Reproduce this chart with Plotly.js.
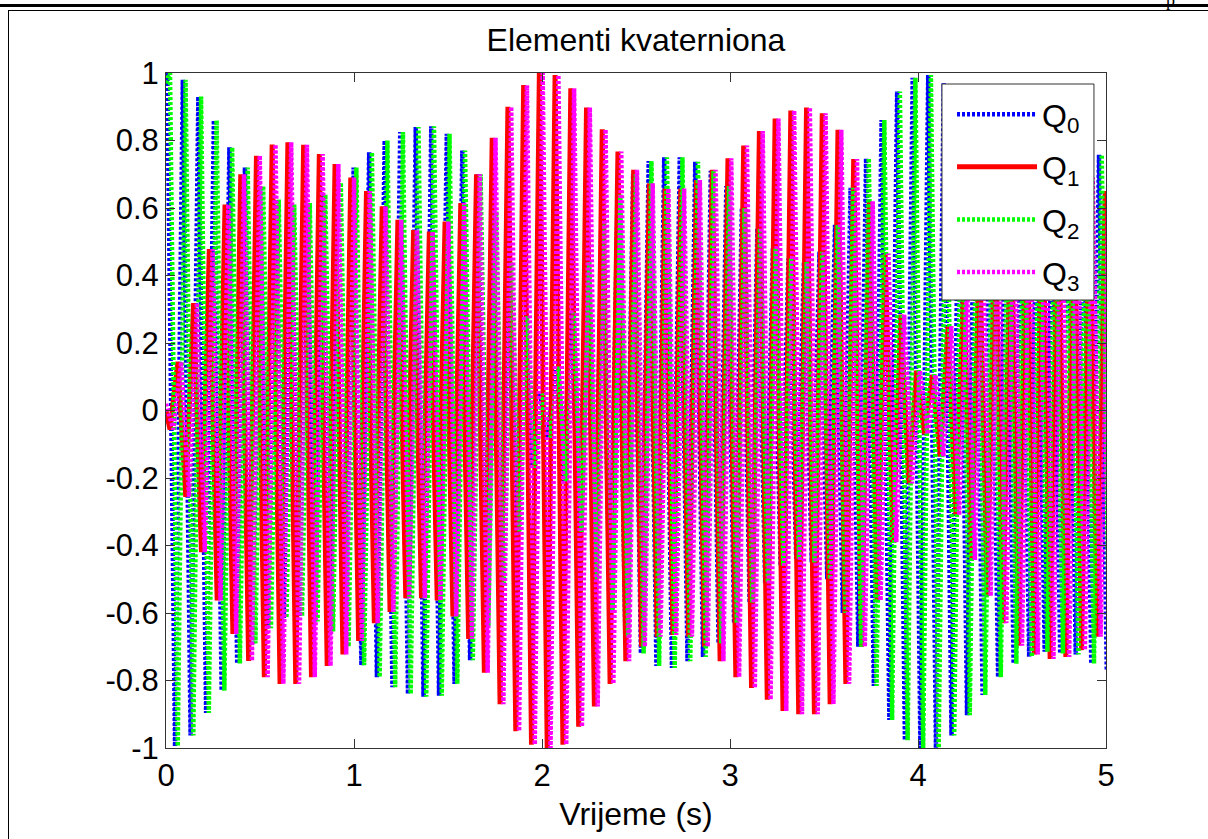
<!DOCTYPE html>
<html>
<head>
<meta charset="utf-8">
<script src="https://cdn.plot.ly/plotly-3.0.1.min.js"></script>
<style>
  html, body { margin:0; padding:0; background:#fff; }
  #wrap { position:relative; width:1208px; height:839px; overflow:hidden; }
  #chart { position:absolute; left:0; top:0; width:1208px; height:839px; }
  .rule { position:absolute; background:#000; z-index:5; }
  #pg { position:absolute; left:1166px; top:-10px; font:18px "Liberation Serif", serif; color:#000; z-index:5; }
</style>
</head>
<body>
<div id="wrap">
  <div id="chart"></div>
  <div class="rule" style="left:0;top:4px;width:1208px;height:3px;"></div>
  <div class="rule" style="left:8px;top:10px;width:1200px;height:1px;"></div>
  <div class="rule" style="left:8px;top:10px;width:1px;height:829px;"></div>
  <div id="pg">p</div>
</div>
<script>
// ---- data (extremes of each oscillation half-cycle) ----
const chartTitle = 'Elementi kvaterniona';
const xTitle = 'Vrijeme (s)';
const seriesNames = ['Q<sub>0</sub>', 'Q<sub>1</sub>', 'Q<sub>2</sub>', 'Q<sub>3</sub>'];
const xTickVals = [0, 1, 2, 3, 4, 5];
const xTickLabels = ['0', '1', '2', '3', '4', '5'];
const yTickVals = [-1, -0.8, -0.6, -0.4, -0.2, 0, 0.2, 0.4, 0.6, 0.8, 1];
const yTickLabels = ['-1', '-0.8', '-0.6', '-0.4', '-0.2', '0', '0.2', '0.4', '0.6', '0.8', '1'];

const q0Time = [
0.0069, 0.0482, 0.0895, 0.1308, 0.1721, 0.2134, 0.2547, 0.2960, 0.3373, 0.3786,
0.4199, 0.4612, 0.5025, 0.5438, 0.5851, 0.6264, 0.6677, 0.7090, 0.7503, 0.7916,
0.8329, 0.8742, 0.9155, 0.9568, 0.9981, 1.0394, 1.0807, 1.1220, 1.1633, 1.2046,
1.2459, 1.2872, 1.3285, 1.3698, 1.4111, 1.4524, 1.4937, 1.5350, 1.5763, 1.6176,
1.6589, 1.7002, 1.7415, 1.7828, 1.8241, 1.8654, 1.9067, 1.9480, 1.9893, 2.0306,
2.0719, 2.1132, 2.1545, 2.1958, 2.2371, 2.2784, 2.3197, 2.3610, 2.4023, 2.4436,
2.4849, 2.5262, 2.5675, 2.6088, 2.6501, 2.6914, 2.7327, 2.7740, 2.8153, 2.8566,
2.8979, 2.9392, 2.9805, 3.0218, 3.0631, 3.1044, 3.1457, 3.1870, 3.2283, 3.2696,
3.3109, 3.3522, 3.3935, 3.4348, 3.4761, 3.5174, 3.5587, 3.6000, 3.6413, 3.6826,
3.7239, 3.7652, 3.8065, 3.8478, 3.8891, 3.9304, 3.9717, 4.0130, 4.0543, 4.0956,
4.1369, 4.1782, 4.2195, 4.2608, 4.3021, 4.3434, 4.3847, 4.4260, 4.4673, 4.5086,
4.5499, 4.5912, 4.6325, 4.6738, 4.7151, 4.7564, 4.7977, 4.8390, 4.8803, 4.9216,
4.9629, 5.0042];
const q0Peak = [
1.0, -0.995, 0.98, -0.963, 0.93, -0.896, 0.86, -0.83, 0.78, -0.75,
0.72, -0.69, 0.665, -0.645, 0.625, -0.615, 0.61, -0.61, 0.615, -0.625,
0.64, -0.655, 0.675, -0.70, 0.72, -0.755, 0.765, -0.79, 0.80, -0.82,
0.825, -0.84, 0.84, -0.848, 0.842, -0.845, 0.82, -0.81, 0.77, -0.74,
0.70, -0.64, 0.59, -0.52, 0.44, -0.36, 0.28, -0.17, 0.05, -0.08,
0.13, -0.21, 0.29, -0.36, 0.44, -0.50, 0.56, -0.60, 0.64, -0.67,
0.70, -0.72, 0.739, -0.757, 0.75, -0.763, 0.75, -0.743, 0.737, -0.73,
0.71, -0.69, 0.665, -0.63, 0.60, -0.57, 0.54, -0.51, 0.48, -0.46,
0.45, -0.44, 0.44, -0.45, 0.47, -0.50, 0.55, -0.60, 0.66, -0.70,
0.747, -0.816, 0.861, -0.917, 0.945, -0.977, 0.986, -1.0, 0.994, -1.0,
0.97, -0.963, 0.94, -0.903, 0.87, -0.843, 0.81, -0.79, 0.77, -0.75,
0.74, -0.73, 0.72, -0.715, 0.715, -0.72, 0.725, -0.723, 0.735, -0.75,
0.758, -0.77];

const q1Time = [0,
0.0214, 0.0632, 0.1050, 0.1468, 0.1886, 0.2304, 0.2722, 0.3140, 0.3558, 0.3976,
0.4394, 0.4812, 0.5230, 0.5648, 0.6066, 0.6484, 0.6902, 0.7320, 0.7738, 0.8156,
0.8574, 0.8992, 0.9410, 0.9828, 1.0246, 1.0664, 1.1082, 1.1500, 1.1918, 1.2336,
1.2754, 1.3172, 1.3590, 1.4008, 1.4426, 1.4844, 1.5262, 1.5680, 1.6098, 1.6516,
1.6934, 1.7352, 1.7770, 1.8188, 1.8606, 1.9024, 1.9442, 1.9860, 2.0278, 2.0696,
2.1114, 2.1532, 2.1950, 2.2368, 2.2786, 2.3204, 2.3622, 2.4040, 2.4458, 2.4876,
2.5294, 2.5712, 2.6130, 2.6548, 2.6966, 2.7384, 2.7802, 2.8220, 2.8638, 2.9056,
2.9474, 2.9892, 3.0310, 3.0728, 3.1146, 3.1564, 3.1982, 3.2400, 3.2818, 3.3236,
3.3654, 3.4072, 3.4490, 3.4908, 3.5326, 3.5744, 3.6162, 3.6580, 3.6998, 3.7416,
3.7834, 3.8252, 3.8670, 3.9088, 3.9506, 3.9924, 4.0342, 4.0760, 4.1178, 4.1596,
4.2014, 4.2432, 4.2850, 4.3268, 4.3686, 4.4104, 4.4522, 4.4940, 4.5358, 4.5776,
4.6194, 4.6612, 4.7030, 4.7448, 4.7866, 4.8284, 4.8702, 4.9120, 4.9538, 4.9956,
5.0374];
const q1Peak = [0,
-0.056, 0.144, -0.256, 0.318, -0.42, 0.478, -0.563, 0.61, -0.662, 0.70,
-0.742, 0.755, -0.79, 0.788, -0.81, 0.795, -0.81, 0.787, -0.79, 0.76,
-0.757, 0.73, -0.723, 0.69, -0.683, 0.65, -0.63, 0.605, -0.597, 0.565,
-0.556, 0.535, -0.556, 0.53, -0.563, 0.56, -0.61, 0.615, -0.677, 0.70,
-0.777, 0.808, -0.87, 0.90, -0.95, 0.964, -0.99, 1.0, -1.0, 0.994,
-0.99, 0.955, -0.937, 0.898, -0.877, 0.833, -0.81, 0.767, -0.743, 0.713,
-0.70, 0.673, -0.67, 0.658, -0.665, 0.658, -0.67, 0.683, -0.70, 0.713,
-0.743, 0.747, -0.79, 0.785, -0.822, 0.828, -0.857, 0.865, -0.89, 0.889,
-0.90, 0.898, -0.90, 0.881, -0.87, 0.832, -0.81, 0.745, -0.70, 0.62,
-0.563, 0.465, -0.39, 0.284, -0.216, 0.118, -0.07, 0.105, -0.136, 0.25,
-0.31, 0.38, -0.443, 0.50, -0.55, 0.60, -0.63, 0.67, -0.697, 0.71,
-0.723, 0.73, -0.736, 0.735, -0.73, 0.72, -0.71, 0.69, -0.67, 0.65,
-0.64];

const q2Time = [0,
0.0213, 0.0626, 0.1039, 0.1452, 0.1865, 0.2278, 0.2691, 0.3104, 0.3517, 0.3930,
0.4343, 0.4756, 0.5169, 0.5582, 0.5995, 0.6408, 0.6821, 0.7234, 0.7647, 0.8060,
0.8473, 0.8886, 0.9299, 0.9712, 1.0125, 1.0538, 1.0951, 1.1364, 1.1777, 1.2190,
1.2603, 1.3016, 1.3429, 1.3842, 1.4255, 1.4668, 1.5081, 1.5494, 1.5907, 1.6320,
1.6733, 1.7146, 1.7559, 1.7972, 1.8385, 1.8798, 1.9211, 1.9624, 2.0037, 2.0450,
2.0863, 2.1276, 2.1689, 2.2102, 2.2515, 2.2928, 2.3341, 2.3754, 2.4167, 2.4580,
2.4993, 2.5406, 2.5819, 2.6232, 2.6645, 2.7058, 2.7471, 2.7884, 2.8297, 2.8710,
2.9123, 2.9536, 2.9949, 3.0362, 3.0775, 3.1188, 3.1601, 3.2014, 3.2427, 3.2840,
3.3253, 3.3666, 3.4079, 3.4492, 3.4905, 3.5318, 3.5731, 3.6144, 3.6557, 3.6970,
3.7383, 3.7796, 3.8209, 3.8622, 3.9035, 3.9448, 3.9861, 4.0274, 4.0687, 4.1100,
4.1513, 4.1926, 4.2339, 4.2752, 4.3165, 4.3578, 4.3991, 4.4404, 4.4817, 4.5230,
4.5643, 4.6056, 4.6469, 4.6882, 4.7295, 4.7708, 4.8121, 4.8534, 4.8947, 4.9360,
4.9773, 5.0186];
const q2Peak = [0.97,
1.0, -0.995, 0.98, -0.963, 0.93, -0.896, 0.86, -0.83, 0.78, -0.75,
0.72, -0.69, 0.665, -0.645, 0.625, -0.615, 0.61, -0.61, 0.615, -0.625,
0.64, -0.655, 0.675, -0.70, 0.72, -0.755, 0.765, -0.79, 0.80, -0.82,
0.825, -0.84, 0.84, -0.848, 0.842, -0.845, 0.82, -0.81, 0.77, -0.74,
0.70, -0.64, 0.59, -0.52, 0.44, -0.36, 0.28, -0.17, 0.05, -0.08,
0.13, -0.21, 0.29, -0.36, 0.44, -0.50, 0.56, -0.60, 0.64, -0.67,
0.70, -0.72, 0.739, -0.757, 0.75, -0.763, 0.75, -0.743, 0.737, -0.73,
0.71, -0.69, 0.665, -0.63, 0.60, -0.57, 0.54, -0.51, 0.48, -0.46,
0.45, -0.44, 0.44, -0.45, 0.47, -0.50, 0.55, -0.60, 0.66, -0.70,
0.747, -0.816, 0.861, -0.917, 0.945, -0.977, 0.986, -1.0, 0.994, -1.0,
0.97, -0.963, 0.94, -0.903, 0.87, -0.843, 0.81, -0.79, 0.77, -0.75,
0.74, -0.73, 0.72, -0.715, 0.715, -0.72, 0.725, -0.723, 0.735, -0.75,
0.758, -0.77];

const q3Time = [0,
0.0389, 0.0807, 0.1225, 0.1643, 0.2061, 0.2479, 0.2897, 0.3315, 0.3733, 0.4151,
0.4569, 0.4987, 0.5405, 0.5823, 0.6241, 0.6659, 0.7077, 0.7495, 0.7913, 0.8331,
0.8749, 0.9167, 0.9585, 1.0003, 1.0421, 1.0839, 1.1257, 1.1675, 1.2093, 1.2511,
1.2929, 1.3347, 1.3765, 1.4183, 1.4601, 1.5019, 1.5437, 1.5855, 1.6273, 1.6691,
1.7109, 1.7527, 1.7945, 1.8363, 1.8781, 1.9199, 1.9617, 2.0035, 2.0453, 2.0871,
2.1289, 2.1707, 2.2125, 2.2543, 2.2961, 2.3379, 2.3797, 2.4215, 2.4633, 2.5051,
2.5469, 2.5887, 2.6305, 2.6723, 2.7141, 2.7559, 2.7977, 2.8395, 2.8813, 2.9231,
2.9649, 3.0067, 3.0485, 3.0903, 3.1321, 3.1739, 3.2157, 3.2575, 3.2993, 3.3411,
3.3829, 3.4247, 3.4665, 3.5083, 3.5501, 3.5919, 3.6337, 3.6755, 3.7173, 3.7591,
3.8009, 3.8427, 3.8845, 3.9263, 3.9681, 4.0099, 4.0517, 4.0935, 4.1353, 4.1771,
4.2189, 4.2607, 4.3025, 4.3443, 4.3861, 4.4279, 4.4697, 4.5115, 4.5533, 4.5951,
4.6369, 4.6787, 4.7205, 4.7623, 4.8041, 4.8459, 4.8877, 4.9295, 4.9713, 5.0131,
5.0549];
const q3Peak = [0.02,
-0.056, 0.144, -0.256, 0.318, -0.42, 0.478, -0.563, 0.61, -0.662, 0.70,
-0.742, 0.755, -0.79, 0.788, -0.81, 0.795, -0.81, 0.787, -0.79, 0.76,
-0.757, 0.73, -0.723, 0.69, -0.683, 0.65, -0.63, 0.605, -0.597, 0.565,
-0.556, 0.535, -0.556, 0.53, -0.563, 0.56, -0.61, 0.615, -0.677, 0.70,
-0.777, 0.808, -0.87, 0.90, -0.95, 0.964, -0.99, 1.0, -1.0, 0.994,
-0.99, 0.955, -0.937, 0.898, -0.877, 0.833, -0.81, 0.767, -0.743, 0.713,
-0.70, 0.673, -0.67, 0.658, -0.665, 0.658, -0.67, 0.683, -0.70, 0.713,
-0.743, 0.747, -0.79, 0.785, -0.822, 0.828, -0.857, 0.865, -0.89, 0.889,
-0.90, 0.898, -0.90, 0.881, -0.87, 0.832, -0.81, 0.745, -0.70, 0.62,
-0.563, 0.465, -0.39, 0.284, -0.216, 0.118, -0.07, 0.105, -0.136, 0.25,
-0.31, 0.38, -0.443, 0.50, -0.55, 0.60, -0.63, 0.67, -0.697, 0.71,
-0.723, 0.73, -0.736, 0.735, -0.73, 0.72, -0.71, 0.69, -0.67, 0.65,
-0.64];

// ---- traces ----
const seriesX = [q0Time, q1Time, q2Time, q3Time];
const seriesY = [q0Peak, q1Peak, q2Peak, q3Peak];
const styles = [
  {color:'#0000ff', dash:'3px,2px', width:4.5},
  {color:'#ff0000', dash:'solid', width:5},
  {color:'#00ff00', dash:'3px,2px', width:4.5},
  {color:'#ff00ff', dash:'3px,2px', width:4.5}
];
const traces = seriesX.map((xs, k) => ({
  type:'scatter', mode:'lines', x:xs, y:seriesY[k], name:seriesNames[k],
  legendgroup:'g'+k,
  line:Object.assign({simplify:false}, styles[k]),
  hoverinfo:'skip'
}));

const axisCommon = {
  showgrid:false, zeroline:false, showline:true, linecolor:'#333', linewidth:1,
  mirror:'ticks', ticks:'inside', ticklen:9, tickcolor:'#333', tickwidth:1,
  automargin:false, tickfont:{size:31, color:'#000'}
};

const layout = {
  width:1208, height:839,
  margin:{l:166, r:102, t:73, b:91, pad:0},
  paper_bgcolor:'#fff', plot_bgcolor:'#fff',
  font:{family:'"Liberation Sans", Arial, Helvetica, sans-serif', size:31, color:'#000'},
  title:{text:chartTitle, x:0.5, xref:'paper', xanchor:'center', y:0.952, yref:'container', yanchor:'middle', font:{size:32, color:'#000'}},
  xaxis:Object.assign({}, axisCommon, {range:[0,5], tickmode:'array', tickvals:xTickVals, ticktext:xTickLabels,
    title:{text:xTitle, standoff:10, font:{size:32, color:'#000'}}}),
  yaxis:Object.assign({}, axisCommon, {range:[-1,1], tickmode:'array', tickvals:yTickVals, ticktext:yTickLabels}),
  // legend box (white panel with border) drawn behind the transparent legend
  shapes:[{type:'rect', xref:'paper', yref:'paper', x0:0.8255, x1:0.9872, y0:0.6637, y1:0.9837,
    fillcolor:'#fff', line:{color:'#333', width:1}, layer:'above'}],
  showlegend:true,
  legend:{x:0.8362, y:0.9793, xanchor:'left', yanchor:'top', bgcolor:'rgba(0,0,0,0)', borderwidth:0,
    font:{size:32, color:'#000'}, itemwidth:80, traceorder:'grouped', tracegroupgap:8}
};

Plotly.newPlot('chart', traces, layout, {staticPlot:true, displayModeBar:false});
</script>
</body>
</html>
